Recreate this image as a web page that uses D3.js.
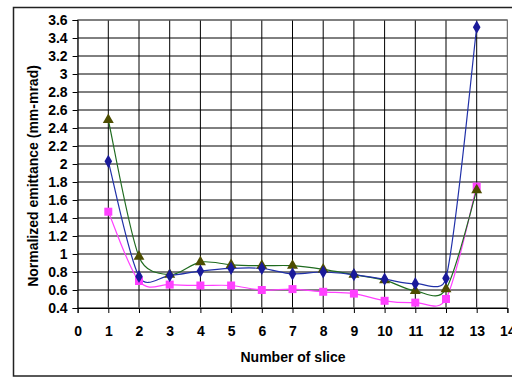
<!DOCTYPE html>
<html>
<head>
<meta charset="utf-8">
<script src="https://cdn.jsdelivr.net/npm/d3@7"></script>
<style>
body { margin: 0; background: #fff; }
text { font-family: "Liberation Sans", Arial, sans-serif; font-weight: bold; }
</style>
</head>
<body>
<svg id="chart"></svg>
<script>
var width = 512
var height = 378

var slices = [1, 2, 3, 4, 5, 6, 7, 8, 9, 10, 11, 12, 13]
var blueValues = [2.03, 0.75, 0.76, 0.81, 0.84, 0.84, 0.78, 0.80, 0.77, 0.72, 0.67, 0.73, 3.52]
var greenValues = [2.49, 0.97, 0.77, 0.91, 0.88, 0.87, 0.87, 0.83, 0.77, 0.71, 0.59, 0.61, 1.71]
var pinkValues = [1.47, 0.70, 0.66, 0.65, 0.65, 0.60, 0.61, 0.58, 0.56, 0.48, 0.46, 0.50, 1.75]
var xTicks = [0, 1, 2, 3, 4, 5, 6, 7, 8, 9, 10, 11, 12, 13, 14]
var yTicks = [0.4, 0.6, 0.8, 1, 1.2, 1.4, 1.6, 1.8, 2, 2.2, 2.4, 2.6, 2.8, 3, 3.2, 3.4, 3.6]

// plot area edges
var plotLeft = 77.6, plotRight = 507.4, plotTop = 20, plotBottom = 308
var fontSize = 14

var svg = d3.select("#chart")
  .attr("width", width)
  .attr("height", height)

var x = d3.scaleLinear().domain([0, 14]).range([plotLeft, plotRight])
var y = d3.scaleLinear().domain([0.4, 3.6]).range([plotBottom, plotTop])

// outer frame
svg.append("rect")
  .attr("x", 13.5).attr("y", 7.5)
  .attr("width", 530).attr("height", 368.5)
  .attr("fill", "none").attr("stroke", "#222").attr("stroke-width", 1.5)

// grid
svg.append("g").selectAll("line").data(yTicks).enter().append("line")
  .attr("x1", plotLeft).attr("x2", plotRight)
  .attr("y1", d => y(d)).attr("y2", d => y(d))
  .attr("stroke", "#000").attr("stroke-width", 1)
svg.append("g").selectAll("line").data(xTicks).enter().append("line")
  .attr("x1", d => x(d)).attr("x2", d => x(d))
  .attr("y1", plotTop).attr("y2", plotBottom)
  .attr("stroke", "#000").attr("stroke-width", 1)
svg.append("rect")
  .attr("x", plotLeft).attr("y", plotTop)
  .attr("width", plotRight - plotLeft).attr("height", plotBottom - plotTop)
  .attr("fill", "none").attr("stroke", "#808080").attr("stroke-width", 1)

// axes
var yAxis = d3.axisLeft(y).tickValues(yTicks).tickSize(5).tickPadding(5)
  .tickFormat(d => String(+d.toFixed(1)))
var gy = svg.append("g").attr("transform", "translate(" + plotLeft + ",0)").call(yAxis)
var xAxis = d3.axisBottom(x).tickValues(xTicks).tickSize(5).tickPadding(13)
  .tickFormat(d3.format("d"))
var gx = svg.append("g").attr("transform", "translate(0," + plotBottom + ")").call(xAxis)
;[gx, gy].forEach(function(g) {
  g.select(".domain").attr("stroke", "#000")
  g.selectAll(".tick line").attr("stroke", "#000")
  g.selectAll("text").attr("fill", "#000").attr("font-size", fontSize)
    .style("font-family", "'Liberation Sans', Arial, sans-serif").style("font-weight", "bold")
})

svg.append("text")
  .attr("x", 293).attr("y", 362)
  .attr("text-anchor", "middle").attr("font-size", fontSize)
  .text("Number of slice")
svg.append("text")
  .attr("transform", "translate(38,176) rotate(-90)")
  .attr("text-anchor", "middle").attr("font-size", fontSize)
  .text("Normalized emittance (mm-mrad)")

var series = [
  { values: pinkValues, line: "#ff40ff", fill: "#ff40ff", shape: d3.symbolSquare, size: 64 },
  { values: greenValues, line: "#1f6b1f", fill: "#4d4d00", shape: d3.symbolTriangle, size: 52 },
  { values: blueValues, line: "#2030a8", fill: "#1a1a9a", shape: d3.symbolDiamond, size: 50 }
]

// spreadsheet-style smoothing: bezier control points at 1/6 of the
// neighbour chord, capped at half of the segment length
function smoothPath(values) {
  var pts = values.map((d, i) => [x(slices[i]), y(d)])
  var dist = (a, b) => Math.hypot(a[0] - b[0], a[1] - b[1])
  var p = d3.path()
  p.moveTo(pts[0][0], pts[0][1])
  for (var i = 0; i < pts.length - 1; i++) {
    var p0 = pts[Math.max(i - 1, 0)], p1 = pts[i], p2 = pts[i + 1], p3 = pts[Math.min(i + 2, pts.length - 1)]
    var d12 = dist(p1, p2), d02 = dist(p0, p2), d13 = dist(p1, p3)
    var f1 = d02 > 0 ? Math.min(1 / 6, 0.5 * d12 / d02) : 0
    var f2 = d13 > 0 ? Math.min(1 / 6, 0.5 * d12 / d13) : 0
    p.bezierCurveTo(
      p1[0] + (p2[0] - p0[0]) * f1, p1[1] + (p2[1] - p0[1]) * f1,
      p2[0] - (p3[0] - p1[0]) * f2, p2[1] - (p3[1] - p1[1]) * f2,
      p2[0], p2[1])
  }
  return p.toString()
}

series.forEach(function(s) {
  svg.append("path")
    .attr("d", smoothPath(s.values))
    .attr("fill", "none").attr("stroke", s.line).attr("stroke-width", 1.2)
})
series.forEach(function(s) {
  svg.append("g").selectAll("path").data(s.values).enter().append("path")
    .attr("d", d3.symbol().type(s.shape).size(s.size))
    .attr("transform", (d, i) => "translate(" + x(slices[i]) + "," + y(d) + ")")
    .attr("fill", s.fill)
})
</script>
</body>
</html>
